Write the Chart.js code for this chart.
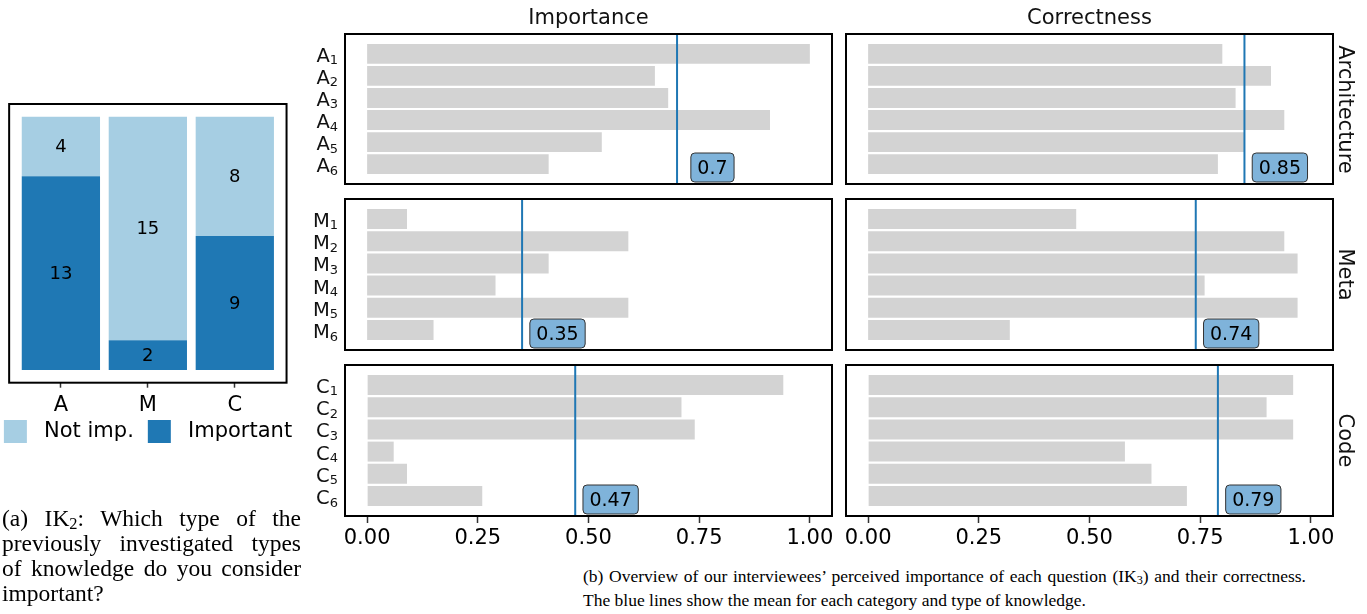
<!DOCTYPE html>
<html>
<head>
<meta charset="utf-8">
<script src="https://cdn.jsdelivr.net/npm/chart.js@4.4.0/dist/chart.umd.min.js"></script>
<style>
  body { margin: 0; background: #fff; width: 1367px; height: 614px; position: relative; overflow: hidden; font-family: "DejaVu Sans"; }
  canvas { position: absolute; }
  .title { position: absolute; width: 300px; text-align: center; font-size: 21px; line-height: 21px; color: #111; }
  .row { position: absolute; width: 200px; text-align: center; font-size: 21px; line-height: 21px; color: #111; transform: rotate(90deg); }
  .cap { position: absolute; font-family: "Liberation Serif"; white-space: nowrap; color: #000; }
  .just { text-align: justify; text-align-last: justify; }
</style>
</head>
<body>
<canvas id="ik2" width="356" height="453" style="left:-29.85px;top:0px"></canvas>

<canvas id="imp0" width="544" height="154" style="left:300px;top:32px"></canvas>
<canvas id="imp1" width="544" height="155" style="left:300px;top:197px"></canvas>
<canvas id="imp2" width="544" height="193" style="left:300px;top:363px"></canvas>
<canvas id="cor0" width="511" height="154" style="left:834px;top:32px"></canvas>
<canvas id="cor1" width="511" height="155" style="left:834px;top:197px"></canvas>
<canvas id="cor2" width="511" height="193" style="left:834px;top:363px"></canvas>

<div class="title" style="left:438.5px;top:7px">Importance</div>
<div class="title" style="left:939.5px;top:7px">Correctness</div>
<div class="row" style="left:1245px;top:98.5px">Architecture</div>
<div class="row" style="left:1245px;top:264px">Meta</div>
<div class="row" style="left:1245px;top:430px">Code</div>

<div class="cap just" style="left:2px;top:506px;width:299px;font-size:23.5px;line-height:25px">(a) IK<span style="font-size:0.7em;vertical-align:-0.2em">2</span>: Which type of the</div>
<div class="cap just" style="left:2px;top:531px;width:299px;font-size:23.5px;line-height:25px">previously investigated types</div>
<div class="cap just" style="left:2px;top:556px;width:299px;font-size:23.5px;line-height:25px">of knowledge do you consider</div>
<div class="cap" style="left:2px;top:581px;font-size:23.5px;line-height:25px">important?</div>
<div class="cap just" style="left:583px;top:564px;width:723px;font-size:17.5px;line-height:24px">(b) Overview of our interviewees’ perceived importance of each question (IK<span style="font-size:0.7em;vertical-align:-0.2em">3</span>) and their correctness.</div>
<div class="cap" style="left:583px;top:588px;font-size:17.5px;line-height:24px">The blue lines show the mean for each category and type of knowledge.</div>

<script>
// (a) IK2 answers per knowledge type
const knowledgeTypes = ['A', 'M', 'C'];
const importantCounts = [13, 2, 9];
const notImportantCounts = [4, 15, 8];

// (b) IK3 per question, one array per category
const questionPrefixes = ['A', 'M', 'C'];
const questionNumbers = ['1', '2', '3', '4', '5', '6'];
const importanceArchitecture = [1.0, 0.65, 0.68, 0.91, 0.53, 0.41];
const importanceMeta = [0.09, 0.59, 0.41, 0.29, 0.59, 0.15];
const importanceCode = [0.94, 0.71, 0.74, 0.06, 0.09, 0.26];
const correctnessArchitecture = [0.80, 0.91, 0.83, 0.94, 0.85, 0.79];
const correctnessMeta = [0.47, 0.94, 0.97, 0.76, 0.97, 0.32];
const correctnessCode = [0.96, 0.90, 0.96, 0.58, 0.64, 0.72];
const importanceMeans = [0.7, 0.35, 0.47];
const correctnessMeans = [0.85, 0.74, 0.79];
const xTicks = [0, 0.25, 0.5, 0.75, 1.0];

Chart.defaults.font.family = '"DejaVu Sans"';
Chart.defaults.color = '#000';

const frameAndLabels = {
  id: 'frameAndLabels',
  afterLayout(chart, args, opts) {
    // let the A/M/C tick labels reach below the short axis box
    if (opts.segments) chart.scales.x.bottom = chart.scales.x.top + 34;
  },
  afterDatasetsDraw(chart, args, opts) {
    const { ctx, chartArea: a } = chart;
    ctx.save();
    if (opts.segments) {
      ctx.font = '18px "DejaVu Sans"';
      ctx.fillStyle = '#000';
      ctx.textAlign = 'center';
      ctx.textBaseline = 'middle';
      chart.data.datasets.forEach((ds, di) => {
        chart.getDatasetMeta(di).data.forEach((bar, i) => {
          const p = bar.getProps(['x', 'y', 'base'], true);
          ctx.fillText(String(ds.data[i].y), p.x, (p.y + p.base) / 2 + 1);
        });
      });
    }
    if (opts.mean !== undefined) {
      const x = chart.scales.x;
      const mx = x.getPixelForValue(opts.mean);
      ctx.strokeStyle = '#1f77b4';
      ctx.lineWidth = 2;
      ctx.beginPath();
      ctx.moveTo(mx, a.top);
      ctx.lineTo(mx, a.bottom);
      ctx.stroke();

      const text = String(opts.mean);
      ctx.font = '19px "DejaVu Sans"';
      const tw = ctx.measureText(text).width;
      const cx = x.getPixelForValue(opts.mean + 0.08);
      const bw = tw + 13, bh = 29;
      const bx = cx - bw / 2, by = a.bottom - 2 - bh;
      ctx.beginPath();
      ctx.roundRect(bx, by, bw, bh, 4);
      ctx.fillStyle = '#7fb3da';
      ctx.fill();
      ctx.strokeStyle = '#333';
      ctx.lineWidth = 1;
      ctx.stroke();
      ctx.fillStyle = '#000';
      ctx.textAlign = 'center';
      ctx.textBaseline = 'middle';
      ctx.fillText(text, cx, by + bh / 2 + 1.5);
    }
    if (opts.prefix) {
      const y = chart.scales.y;
      const right = a.left - 7;
      ctx.fillStyle = '#111';
      ctx.textAlign = 'left';
      ctx.textBaseline = 'alphabetic';
      questionNumbers.forEach((num, i) => {
        const cy = y.getPixelForValue(i);
        ctx.font = '13px "DejaVu Sans"';
        const ws = ctx.measureText(num).width;
        ctx.fillText(num, right - ws, cy + 10.5);
        ctx.font = '19.5px "DejaVu Sans"';
        const wm = ctx.measureText(opts.prefix).width;
        ctx.fillText(opts.prefix, right - ws - wm, cy + 8);
      });
    }
    ctx.strokeStyle = '#000';
    ctx.lineWidth = 2;
    ctx.strokeRect(a.left, a.top, a.right - a.left, a.bottom - a.top);
    ctx.restore();
  }
};

// (a) stacked bars
new Chart(document.getElementById('ik2'), {
  type: 'bar',
  data: {
    datasets: [
      {
        label: 'Important',
        data: importantCounts.map((v, i) => ({ x: i, y: v })),
        backgroundColor: '#1f78b4'
      },
      {
        label: 'Not imp.',
        data: notImportantCounts.map((v, i) => ({ x: i, y: v })),
        backgroundColor: '#a6cee3'
      }
    ]
  },
  options: {
    responsive: false,
    animation: false,
    devicePixelRatio: 1,
    barPercentage: 0.9,
    categoryPercentage: 1.0,
    layout: { padding: { top: 104, bottom: 0, left: 0, right: 0 } },
    plugins: {
      legend: {
        position: 'bottom',
        reverse: true,
        labels: {
          boxWidth: 23, boxHeight: 23, padding: 14, color: '#000', font: { size: 21 },
          // a leading space widens the gap between swatch and text
          generateLabels: chart => Chart.defaults.plugins.legend.labels.generateLabels(chart)
            .map(item => Object.assign(item, { text: ' ' + item.text }))
        }
      },
      tooltip: { enabled: false },
      frameAndLabels: { segments: true }
    },
    scales: {
      x: {
        type: 'linear', min: -0.595, max: 2.595, stacked: true, offset: false,
        grid: { offset: false, drawOnChartArea: false, drawTicks: true, tickLength: 5, tickWidth: 1.5, color: '#333' },
        border: { display: false },
        ticks: { font: { size: 21 }, color: '#000', padding: 5, maxRotation: 0, autoSkip: false,
                 callback: v => knowledgeTypes[v] },
        afterBuildTicks: s => { s.ticks = knowledgeTypes.map((t, i) => ({ value: i })); },
        afterFit: s => { s.height = 23.3; }
      },
      y: {
        type: 'linear', min: -0.85, max: 17.85, stacked: true, position: 'left',
        grid: { display: false }, border: { display: false }, ticks: { display: false },
        afterFit: s => { s.width = 39.15; }
      },
      yRight: {
        type: 'linear', position: 'right',
        grid: { display: false }, border: { display: false }, ticks: { display: false },
        afterFit: s => { s.width = 39.45; }
      }
    }
  },
  plugins: [frameAndLabels]
});

// (b) small multiples
function makePanel(id, values, mean, prefix, showAxis) {
  new Chart(document.getElementById(id), {
    type: 'bar',
    data: {
      datasets: [{
        data: values.map((v, i) => ({ x: v, y: i })),
        backgroundColor: '#d3d3d3',
        barPercentage: 0.9,
        categoryPercentage: 1.0
      }]
    },
    options: {
      indexAxis: 'y',
      responsive: false,
      animation: false,
      devicePixelRatio: 1,
      layout: { padding: { left: prefix ? 45 : 12, right: 12, top: 2, bottom: showAxis ? 0 : 2 } },
      plugins: {
        legend: { display: false },
        tooltip: { enabled: false },
        frameAndLabels: { mean: mean, prefix: prefix }
      },
      scales: {
        x: {
          type: 'linear', min: -0.05, max: 1.05, display: showAxis,
          grid: { drawOnChartArea: false, drawTicks: true, tickLength: 7, tickWidth: 1.5, color: '#333' },
          border: { display: false },
          ticks: { font: { size: 21 }, color: '#000', padding: 3, maxRotation: 0, autoSkip: false,
                   callback: v => v.toFixed(2) },
          afterBuildTicks: s => { s.ticks = xTicks.map(v => ({ value: v })); },
          afterFit: s => { if (showAxis) s.height = 40; }
        },
        y: {
          type: 'linear', min: -0.9, max: 5.9, reverse: true, display: false,
          offset: false, grid: { offset: false },
          afterBuildTicks: s => { s.ticks = questionNumbers.map((n, i) => ({ value: i })); }
        }
      }
    },
    plugins: [frameAndLabels]
  });
}

makePanel('imp0', importanceArchitecture, importanceMeans[0], questionPrefixes[0], false);
makePanel('imp1', importanceMeta, importanceMeans[1], questionPrefixes[1], false);
makePanel('imp2', importanceCode, importanceMeans[2], questionPrefixes[2], true);
makePanel('cor0', correctnessArchitecture, correctnessMeans[0], null, false);
makePanel('cor1', correctnessMeta, correctnessMeans[1], null, false);
makePanel('cor2', correctnessCode, correctnessMeans[2], null, true);
</script>
</body>
</html>
